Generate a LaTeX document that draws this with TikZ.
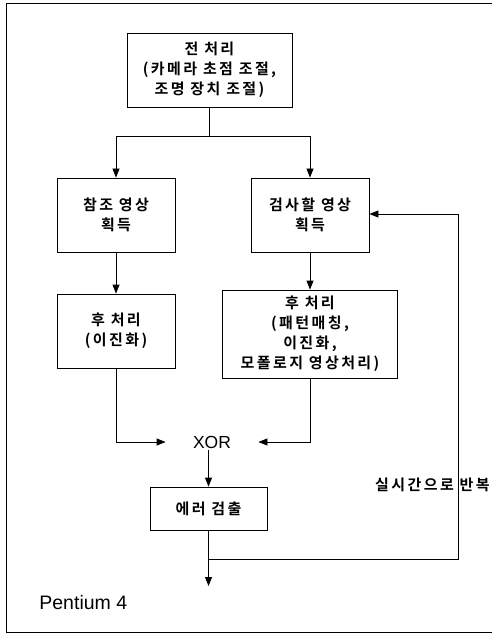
\documentclass[tikz,border=0pt]{standalone}
\usepackage{fontspec}
\setmainfont{Liberation Sans}
\newfontfamily\kr{Noto Sans CJK KR}[BoldFont={Noto Sans CJK KR Bold},LetterSpace=16]
\usetikzlibrary{arrows.meta}
\begin{document}
\begin{tikzpicture}[x=1pt,y=-1pt,
  line width=0.8pt,
  box/.style={draw, align=center, inner sep=0pt, font=\kr\bfseries\fontsize{15}{20}\selectfont},
  arr/.style={-{Triangle[length=9pt,width=7pt]}}]
\useasboundingbox (0,0) rectangle (492,636);
\draw (492,3) -- (6,3) -- (6,632) -- (492,632);

\node[box, minimum width=165pt, minimum height=74pt] (top) at (209.5,70) {전 처리\\(카메라 초점 조절,\\조명 장치 조절)};
\node[box, minimum width=118pt, minimum height=74pt] (ref) at (116,215) {참조 영상\\획득};
\node[box, minimum width=118pt, minimum height=74pt] (insp) at (310,215) {검사할 영상\\획득};
\node[box, minimum width=118pt, minimum height=74pt] (postL) at (116,331) {후 처리\\(이진화)};
\node[box, minimum width=175pt, minimum height=88pt] (postR) at (310,334) {후 처리\\(패턴매칭,\\이진화,\\모폴로지 영상처리)};
\node[inner sep=0pt, minimum width=92pt, minimum height=16pt, font=\fontsize{17.5}{17}\selectfont] (xor) at (212,442) {XOR};
\node[box, minimum width=117pt, minimum height=43pt] (err) at (208.5,508.5) {에러 검출};
\node[inner sep=0pt, anchor=east, font=\kr\bfseries\fontsize{15}{16}\selectfont] (rep) at (490,485) {실시간으로 반복};
\node[inner sep=0pt, anchor=west, font=\fontsize{19.5}{20}\selectfont] (pen) at (39,603) {Pentium 4};

\coordinate (br) at (209.5,136);
\coordinate (out) at (208.5,586);
\coordinate (jn) at (208.5,559);

\draw (top.south) -- (br);
\draw[arr] (br) -| (ref.north);
\draw[arr] (br) -| (insp.north);
\draw[arr] (ref.south) -- (postL.north);
\draw[arr] (insp.south) -- (postR.north);
\draw[arr] (postL.south) |- (xor.west);
\draw[arr] (postR.south) |- (xor.east);
\draw[arr] (xor.south -| err.north) -- (err.north);
\draw[arr] (err.south) -- (out);
\draw[arr] (jn) -- (458,559) -- (458,214) -- (insp.east |- 0,214);
\end{tikzpicture}
\end{document}
